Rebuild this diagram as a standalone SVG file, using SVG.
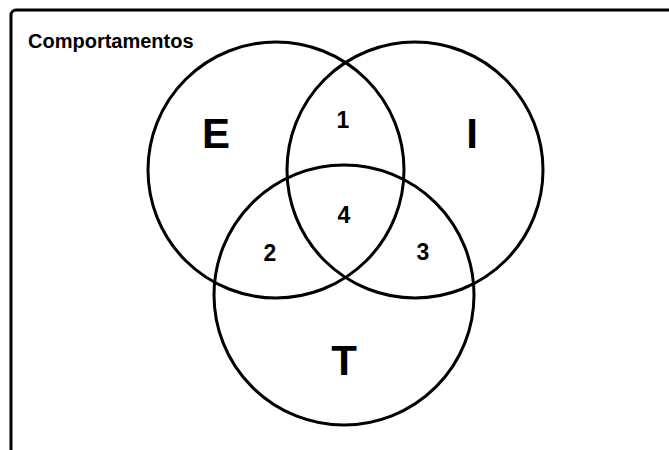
<svg xmlns="http://www.w3.org/2000/svg" width="669" height="450" viewBox="0 0 669 450">
<style>
.c{fill:none;stroke:#000;stroke-width:3}
.t{font-family:"Liberation Sans",Arial,sans-serif;font-weight:bold;fill:#000}
.big{font-size:42px;text-anchor:middle}
.num{font-size:23px;text-anchor:middle}
</style>
<rect x="0" y="0" width="669" height="450" fill="#fff"/>
<g id="frame">
<rect x="11" y="10" width="700" height="500" rx="5" fill="none" stroke="#000" stroke-width="3"/>
<text class="t" x="28" y="48" font-size="20">Comportamentos</text>
</g>
<g id="circles">
<g id="E"><circle class="c" cx="276" cy="170" r="128"/><text class="t big" x="216" y="148">E</text></g>
<g id="I"><circle class="c" cx="415" cy="170" r="128"/><text class="t big" x="472" y="148">I</text></g>
<g id="T"><circle class="c" cx="344" cy="295" r="130"/><text class="t big" x="344" y="375">T</text></g>
</g>
<g id="regions">
<text class="t num" x="343" y="128">1</text>
<text class="t num" x="270" y="261">2</text>
<text class="t num" x="423" y="260">3</text>
<text class="t num" x="344" y="223">4</text>
</g>
</svg>
